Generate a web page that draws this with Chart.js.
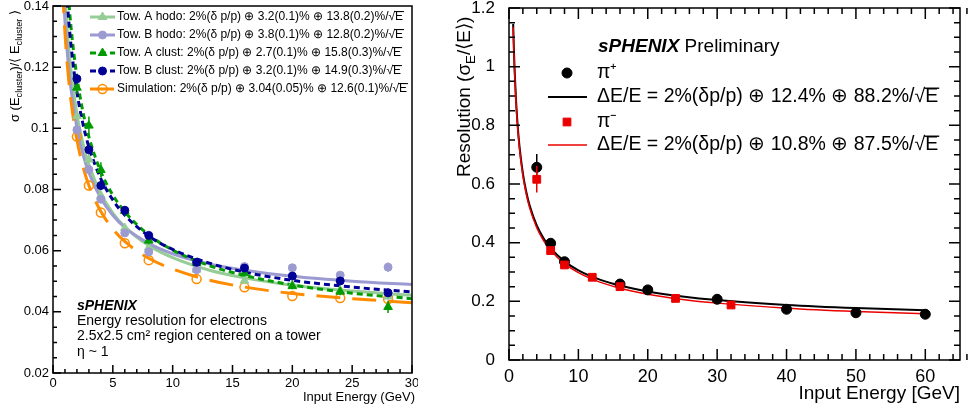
<!DOCTYPE html>
<html>
<head>
<meta charset="utf-8">
<script src="https://cdn.jsdelivr.net/npm/chart.js@4.4.0/dist/chart.umd.min.js"></script>
<style>
  html, body { margin: 0; padding: 0; background: #fff; }
  #wrap { position: relative; width: 979px; height: 412px; overflow: hidden; }
  #left { position: absolute; left: 0; top: 0; }
  #right { position: absolute; left: 440px; top: 0; }
</style>
</head>
<body>
<div id="wrap">
  <canvas id="left" width="418" height="412"></canvas>
  <canvas id="right" width="539" height="412"></canvas>
</div>
<script>
// ---- left panel: electron energy resolution ----
const energyL = [2, 3, 4, 6, 8, 12, 16, 20, 24, 28];
const towAHodo = [0.1040, 0.0898, 0.0780, 0.0674, 0.0610, 0.0538, 0.0502, 0.0488, 0.0470, 0.0450];
const towBHodo = [0.0995, 0.0865, 0.0768, 0.0658, 0.0596, 0.0538, 0.0548, 0.0544, 0.0520, 0.0546];
const towAClust = [0.1133, 0.1009, 0.0864, 0.0730, 0.0633, 0.0560, 0.0526, 0.0484, 0.0466, 0.0416];
const towBClust = [0.1162, 0.0930, 0.0813, 0.0732, 0.0650, 0.0562, 0.0543, 0.0517, 0.0501, 0.0462];
const simulation = [0.0973, 0.0813, 0.0725, 0.0624, 0.0569, 0.0507, 0.0480, 0.0452, 0.0445, 0.0442];
const errAHodo = [0.001, 0.001, 0.001, 0.0008, 0.0008, 0.0008, 0.0008, 0.0008, 0.001, 0.001];
const errBHodo = [0.001, 0.001, 0.001, 0.0008, 0.0008, 0.0008, 0.0008, 0.0008, 0.001, 0.0015];
const errAClust = [0.002, 0.003, 0.0025, 0.0015, 0.0012, 0.001, 0.001, 0.001, 0.0012, 0.002];
const errBClust = [0.0015, 0.0015, 0.0015, 0.001, 0.001, 0.0008, 0.0008, 0.0008, 0.001, 0.0012];

// fit curves
const fitEnergyL = [0.8, 1, 1.25, 1.5, 2, 2.5, 3, 4, 5, 6, 8, 10, 13, 16, 20, 25, 30];
const fitAHodo = [0.1588, 0.1431, 0.1291, 0.1188, 0.1046, 0.0951, 0.0882, 0.0786, 0.0723, 0.0678, 0.0617, 0.0577, 0.0537, 0.0511, 0.0487, 0.0468, 0.0454];
const fitBHodo = [0.1494, 0.1350, 0.1223, 0.1130, 0.1002, 0.0916, 0.0855, 0.0771, 0.0716, 0.0676, 0.0624, 0.0590, 0.0557, 0.0536, 0.0516, 0.0500, 0.0489];
const fitAClust = [0.1798, 0.1615, 0.1453, 0.1333, 0.1167, 0.1054, 0.0972, 0.0858, 0.0782, 0.0727, 0.0652, 0.0602, 0.0552, 0.0519, 0.0488, 0.0461, 0.0443];
const fitBClust = [0.1708, 0.1537, 0.1385, 0.1274, 0.1119, 0.1015, 0.0939, 0.0835, 0.0766, 0.0716, 0.0648, 0.0604, 0.0560, 0.0530, 0.0503, 0.0481, 0.0465];
const fitSim = [0.1455, 0.1311, 0.1184, 0.1091, 0.0962, 0.0876, 0.0813, 0.0728, 0.0671, 0.0630, 0.0575, 0.0540, 0.0504, 0.0481, 0.0460, 0.0443, 0.0430];

const xTicksL = [0, 5, 10, 15, 20, 25, 30];
const yTicksL = [0.02, 0.04, 0.06, 0.08, 0.1, 0.12, 0.14];
const legendL = [
  'Tow. A hodo: 2%(δ p/p) ⊕ 3.2(0.1)% ⊕ 13.8(0.2)%/√E',
  'Tow. B hodo: 2%(δ p/p) ⊕ 3.8(0.1)% ⊕ 12.8(0.2)%/√E',
  'Tow. A clust: 2%(δ p/p) ⊕ 2.7(0.1)% ⊕ 15.8(0.3)%/√E',
  'Tow. B clust: 2%(δ p/p) ⊕ 3.2(0.1)% ⊕ 14.9(0.3)%/√E',
  'Simulation: 2%(δ p/p) ⊕ 3.04(0.05)% ⊕ 12.6(0.1)%/√E'
];
const notesL = ['Energy resolution for electrons', '2.5x2.5 cm² region centered on a tower', 'η ~ 1'];

// ---- right panel: pion energy resolution ----
const energyPiPlus = [4, 6, 8, 16, 20, 30, 40, 50, 60];
const piPlus = [0.657, 0.398, 0.335, 0.259, 0.239, 0.207, 0.173, 0.161, 0.156];
const errPiPlus = [0.045, 0.008, 0.006, 0.005, 0.005, 0.005, 0.005, 0.005, 0.005];
const energyPiMinus = [4, 6, 8, 12, 16, 24, 32];
const piMinus = [0.616, 0.373, 0.324, 0.282, 0.250, 0.210, 0.1875];
const errPiMinus = [0.045, 0.008, 0.006, 0.005, 0.005, 0.005, 0.005];
const fitEnergyR = [0.6, 0.7, 0.8, 1, 1.2, 1.5, 2, 2.5, 3, 4, 5, 6, 8, 10, 13, 16, 20, 25, 30, 40, 50, 60];
const fitPiPlus = [1.1456, 1.0617, 0.9941, 0.8909, 0.8149, 0.7310, 0.6362, 0.5718, 0.5245, 0.4585, 0.4140, 0.3814, 0.3362, 0.3059, 0.2750, 0.2538, 0.2338, 0.2166, 0.2042, 0.1877, 0.1770, 0.1696];
const fitPiMinus = [1.1350, 1.0516, 0.9844, 0.8819, 0.8063, 0.7228, 0.6284, 0.5642, 0.5170, 0.4511, 0.4064, 0.3737, 0.3283, 0.2977, 0.2664, 0.2448, 0.2244, 0.2066, 0.1939, 0.1766, 0.1654, 0.1575];
const xTicksR = [0, 10, 20, 30, 40, 50, 60];
const yTicksR = [0, 0.2, 0.4, 0.6, 0.8, 1, 1.2];
const legendR = ['π⁺', 'ΔE/E = 2%(δp/p) ⊕ 12.4% ⊕ 88.2%/√E', 'π⁻', 'ΔE/E = 2%(δp/p) ⊕ 10.8% ⊕ 87.5%/√E'];

const FONT = '"Liberation Sans", Arial, Helvetica, sans-serif';
Chart.defaults.font.family = FONT;
Chart.defaults.color = '#000';

const pts = (xs, ys) => xs.map((x, i) => ({ x: x, y: ys[i] }));

// text with sub/superscripts, optionally rotated to read bottom-up
function drawRich(ctx, parts, x, y, size, vertical, measureOnly) {
  ctx.save();
  ctx.translate(x, y);
  if (vertical) ctx.rotate(-Math.PI / 2);
  ctx.textBaseline = 'alphabetic';
  ctx.textAlign = 'left';
  let cx = 0;
  for (const [txt, kind] of parts) {
    const s = kind ? size * 0.7 : size;
    ctx.font = s + 'px ' + FONT;
    const dy = kind === 'sub' ? size * 0.3 : kind === 'sup' ? -size * 0.45 : 0;
    if (!measureOnly) ctx.fillText(txt, cx, dy);
    cx += ctx.measureText(txt).width;
  }
  ctx.restore();
  return cx;
}

// label ending in √E gets a bar over the E
function drawSqrtLabel(ctx, txt, x, y, size) {
  ctx.font = size + 'px ' + FONT;
  ctx.textBaseline = 'middle';
  ctx.textAlign = 'left';
  ctx.fillText(txt, x, y);
  if (txt.endsWith('√E')) {
    const x0 = x + ctx.measureText(txt.slice(0, -1)).width;
    const w = ctx.measureText('E').width;
    const top = y - size * 0.45;
    ctx.save();
    ctx.lineWidth = Math.max(1, size / 14);
    ctx.beginPath();
    ctx.moveTo(x0 - 1, top);
    ctx.lineTo(x0 + w + 1, top);
    ctx.stroke();
    ctx.restore();
  }
}

function drawFrame(chart, o) {
  const { ctx, chartArea: a, scales: { x, y } } = chart;
  ctx.save();
  ctx.strokeStyle = '#000';
  ctx.lineWidth = o.lw;
  ctx.strokeRect(a.left, a.top, a.right - a.left, a.bottom - a.top);
  ctx.beginPath();
  const isMajor = (v, m) => Math.abs(v / m - Math.round(v / m)) < 1e-6;
  const nx = Math.round((x.max - x.min) / o.xMinor);
  for (let i = 0; i <= nx; i++) {
    const v = x.min + i * o.xMinor;
    const px = x.getPixelForValue(v);
    const len = isMajor(v, o.xMajor) ? o.major : o.minor;
    ctx.moveTo(px, a.bottom); ctx.lineTo(px, a.bottom - len);
    if (o.allSides) { ctx.moveTo(px, a.top); ctx.lineTo(px, a.top + len); }
  }
  const ny = Math.round((y.max - y.min) / o.yMinor);
  for (let i = 0; i <= ny; i++) {
    const v = y.min + i * o.yMinor;
    const py = y.getPixelForValue(v);
    const len = isMajor(v, o.yMajor) ? o.major : o.minor;
    ctx.moveTo(a.left, py); ctx.lineTo(a.left + len, py);
    if (o.allSides) { ctx.moveTo(a.right, py); ctx.lineTo(a.right - len, py); }
  }
  ctx.stroke();
  ctx.restore();
}

function drawMarker(ctx, ds, x, y) {
  ctx.save();
  ctx.fillStyle = ds.backgroundColor;
  ctx.strokeStyle = ds.borderColor;
  ctx.lineWidth = ds.borderWidth;
  Chart.helpers.drawPoint(ctx, { pointStyle: ds.pointStyle, radius: ds.pointRadius, rotation: 0, borderWidth: ds.borderWidth }, x, y);
  ctx.restore();
}

function drawLineSample(ctx, ds, x0, x1, y) {
  ctx.save();
  ctx.strokeStyle = ds.borderColor;
  ctx.lineWidth = ds.borderWidth;
  ctx.setLineDash(ds.borderDash || []);
  ctx.beginPath();
  ctx.moveTo(x0, y); ctx.lineTo(x1, y);
  ctx.stroke();
  ctx.restore();
}

const errorBars = {
  id: 'errorBars',
  beforeDatasetDraw(chart, args) {
    const ds = chart.data.datasets[args.index];
    if (!ds.errors) return;
    const { ctx } = chart;
    const ys = chart.scales.y;
    ctx.save();
    ctx.strokeStyle = ds.borderColor;
    ctx.lineWidth = ds.errorWidth || 1.5;
    ctx.beginPath();
    args.meta.data.forEach((el, i) => {
      const v = ds.data[i].y, e = ds.errors[i];
      ctx.moveTo(el.x, ys.getPixelForValue(v + e));
      ctx.lineTo(el.x, ys.getPixelForValue(v - e));
    });
    ctx.stroke();
    ctx.restore();
  }
};

// left panel colours
const cAHodo = 'rgb(150,205,150)';
const cBHodo = 'rgb(155,155,210)';
const cAClust = 'rgb(0,155,0)';
const cBClust = 'rgb(0,0,150)';
const cSim = 'rgb(255,140,0)';

const leftDecor = {
  id: 'leftDecor',
  afterDraw(chart) {
    const { ctx } = chart;
    const ds = chart.data.datasets;
    drawFrame(chart, { xMinor: 1, xMajor: 5, yMinor: 0.005, yMajor: 0.02, major: 8, minor: 4, lw: 1.5, allSides: false });
    // legend: [points dataset, line dataset]
    const pairs = [[3, 9], [2, 8], [1, 6], [0, 5], [4, 7]];
    pairs.forEach(([p, l], i) => {
      const yy = 17 + i * 18;
      drawLineSample(ctx, ds[l], 90, 115, yy);
      drawMarker(ctx, ds[p], 102.5, yy);
      ctx.fillStyle = '#000';
      drawSqrtLabel(ctx, legendL[i], 117, yy, 12);
    });
    // annotation
    ctx.save();
    ctx.fillStyle = '#000';
    ctx.textBaseline = 'middle';
    ctx.textAlign = 'left';
    ctx.font = 'italic bold 14px ' + FONT;
    ctx.fillText('sPHENIX', 77, 306);
    ctx.font = '14px ' + FONT;
    notesL.forEach((t, i) => ctx.fillText(t, 77, 321 + i * 15.5));
    ctx.font = '13px ' + FONT;
    ctx.textAlign = 'right';
    ctx.fillText('Input Energy (GeV)', 415, 397);
    ctx.restore();
    // y title, ends near the top of the axis
    const yt = [['σ (E'], ['cluster', 'sub'], [')/⟨ E'], ['cluster', 'sub'], [' ⟩']];
    ctx.fillStyle = '#000';
    const w = drawRich(ctx, yt, 0, 0, 13, true, true);
    drawRich(ctx, yt, 18.5, 10 + w, 13, true);
  }
};

new Chart(document.getElementById('left'), {
  type: 'scatter',
  data: {
    datasets: [
      { label: 'Tow. B clust', data: pts(energyL, towBClust), errors: errBClust, pointStyle: 'circle', pointRadius: 4, borderWidth: 1, backgroundColor: cBClust, borderColor: cBClust, order: 0 },
      { label: 'Tow. A clust', data: pts(energyL, towAClust), errors: errAClust, pointStyle: 'triangle', pointRadius: 5, borderWidth: 1, backgroundColor: cAClust, borderColor: cAClust, order: 0 },
      { label: 'Tow. B hodo', data: pts(energyL, towBHodo), errors: errBHodo, pointStyle: 'circle', pointRadius: 4, borderWidth: 1, backgroundColor: cBHodo, borderColor: cBHodo, order: 0 },
      { label: 'Tow. A hodo', data: pts(energyL, towAHodo), errors: errAHodo, pointStyle: 'triangle', pointRadius: 5, borderWidth: 1, backgroundColor: cAHodo, borderColor: cAHodo, order: 0 },
      { label: 'Simulation', data: pts(energyL, simulation), pointStyle: 'circle', pointRadius: 4.5, borderWidth: 1.5, backgroundColor: 'rgba(255,255,255,0)', borderColor: cSim, order: 0 },
      { label: 'fit B clust', data: pts(fitEnergyL, fitBClust), showLine: true, pointRadius: 0, borderWidth: 3, borderColor: cBClust, borderDash: [6, 4], cubicInterpolationMode: 'monotone', order: 1 },
      { label: 'fit A clust', data: pts(fitEnergyL, fitAClust), showLine: true, pointRadius: 0, borderWidth: 3, borderColor: cAClust, borderDash: [6, 4], cubicInterpolationMode: 'monotone', order: 1 },
      { label: 'fit sim', data: pts(fitEnergyL, fitSim), showLine: true, pointRadius: 0, borderWidth: 3, borderColor: cSim, borderDash: [24, 12], cubicInterpolationMode: 'monotone', order: 1 },
      { label: 'fit B hodo', data: pts(fitEnergyL, fitBHodo), showLine: true, pointRadius: 0, borderWidth: 3, borderColor: cBHodo, cubicInterpolationMode: 'monotone', order: 1 },
      { label: 'fit A hodo', data: pts(fitEnergyL, fitAHodo), showLine: true, pointRadius: 0, borderWidth: 3, borderColor: cAHodo, cubicInterpolationMode: 'monotone', order: 1 }
    ]
  },
  options: {
    responsive: false,
    animation: false,
    layout: { padding: { top: 5, right: 5, left: 0, bottom: 0 } },
    plugins: { legend: { display: false }, tooltip: { enabled: false } },
    scales: {
      x: {
        type: 'linear', min: 0, max: 30,
        afterBuildTicks: s => { s.ticks = xTicksL.map(v => ({ value: v })); },
        ticks: { font: { size: 13 }, color: '#000', padding: 3, maxRotation: 0, autoSkip: false },
        grid: { display: false, drawTicks: false },
        border: { display: false },
        afterFit: s => { s.height = 39; s.paddingLeft = 0; s.paddingRight = 0; }
      },
      y: {
        type: 'linear', min: 0.02, max: 0.14,
        afterBuildTicks: s => { s.ticks = yTicksL.map(v => ({ value: v })); },
        ticks: { font: { size: 13 }, color: '#000', padding: 4, autoSkip: false, callback: v => String(+v.toFixed(2)) },
        grid: { display: false, drawTicks: false },
        border: { display: false },
        afterFit: s => { s.width = 53; s.paddingTop = 0; s.paddingBottom = 0; }
      }
    }
  },
  plugins: [errorBars, leftDecor]
});

// right panel
const cRed = 'rgb(235,0,0)';

const rightDecor = {
  id: 'rightDecor',
  afterDraw(chart) {
    const { ctx } = chart;
    const ds = chart.data.datasets;
    drawFrame(chart, { xMinor: 2, xMajor: 10, yMinor: 0.05, yMajor: 0.2, major: 11, minor: 6, lw: 1.5, allSides: true });
    ctx.save();
    ctx.fillStyle = '#000';
    ctx.textBaseline = 'middle';
    ctx.textAlign = 'left';
    ctx.font = 'italic bold 19px ' + FONT;
    ctx.fillText('sPHENIX', 158, 47);
    const w = ctx.measureText('sPHENIX ').width;
    ctx.font = '19px ' + FONT;
    ctx.fillText('Preliminary', 158 + w, 47);
    // legend
    drawMarker(ctx, ds[1], 127, 73);
    ctx.fillStyle = '#000';
    drawSqrtLabel(ctx, legendR[0], 157, 73, 19.5);
    drawLineSample(ctx, ds[3], 108, 147, 97);
    drawSqrtLabel(ctx, legendR[1], 157, 97, 19.5);
    drawMarker(ctx, ds[0], 127, 122);
    ctx.fillStyle = '#000';
    drawSqrtLabel(ctx, legendR[2], 157, 122, 19.5);
    drawLineSample(ctx, ds[2], 108, 147, 145);
    drawSqrtLabel(ctx, legendR[3], 157, 145, 19.5);
    ctx.font = '19px ' + FONT;
    ctx.textAlign = 'right';
    ctx.fillText('Input Energy [GeV]', 520, 394);
    ctx.restore();
    const yt = [['Resolution (σ'], ['E', 'sub'], ['/⟨E⟩)']];
    ctx.fillStyle = '#000';
    drawRich(ctx, yt, 29.5, 177, 19, true);
  }
};

new Chart(document.getElementById('right'), {
  type: 'scatter',
  data: {
    datasets: [
      { label: 'π-', data: pts(energyPiMinus, piMinus), errors: errPiMinus, pointStyle: 'rect', pointRadius: 5.5, borderWidth: 1, backgroundColor: cRed, borderColor: cRed, order: 0 },
      { label: 'π+', data: pts(energyPiPlus, piPlus), errors: errPiPlus, pointStyle: 'circle', pointRadius: 5, borderWidth: 1, backgroundColor: '#000', borderColor: '#000', order: 0 },
      { label: 'fit π-', data: pts(fitEnergyR, fitPiMinus), showLine: true, pointRadius: 0, borderWidth: 1.5, borderColor: cRed, cubicInterpolationMode: 'monotone', order: 1 },
      { label: 'fit π+', data: pts(fitEnergyR, fitPiPlus), showLine: true, pointRadius: 0, borderWidth: 2, borderColor: '#000', cubicInterpolationMode: 'monotone', order: 1 }
    ]
  },
  options: {
    responsive: false,
    animation: false,
    layout: { padding: { top: 8, right: 19, left: 0, bottom: 0 } },
    plugins: { legend: { display: false }, tooltip: { enabled: false } },
    scales: {
      x: {
        type: 'linear', min: 0, max: 65,
        afterBuildTicks: s => { s.ticks = xTicksR.map(v => ({ value: v })); },
        ticks: { font: { size: 18 }, color: '#000', padding: 6, maxRotation: 0, autoSkip: false },
        grid: { display: false, drawTicks: false },
        border: { display: false },
        afterFit: s => { s.height = 52; s.paddingLeft = 0; s.paddingRight = 0; }
      },
      y: {
        type: 'linear', min: 0, max: 1.2,
        afterBuildTicks: s => { s.ticks = yTicksR.map(v => ({ value: v })); },
        ticks: { font: { size: 17 }, color: '#000', padding: 14, autoSkip: false, callback: v => String(+v.toFixed(1)) },
        grid: { display: false, drawTicks: false },
        border: { display: false },
        afterFit: s => { s.width = 69; s.paddingTop = 0; s.paddingBottom = 0; }
      }
    }
  },
  plugins: [errorBars, rightDecor]
});
</script>
</body>
</html>
